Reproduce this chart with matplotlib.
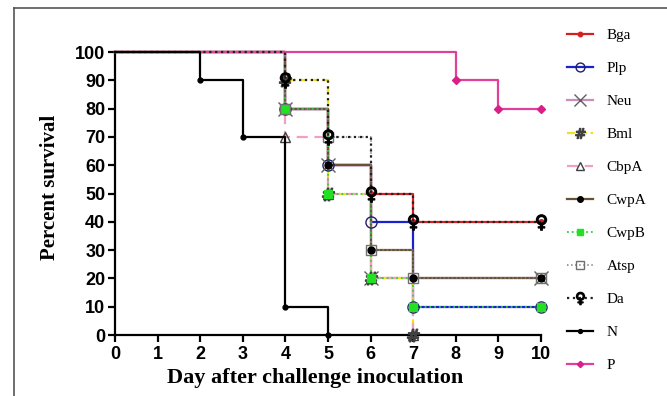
import matplotlib
matplotlib.use("Agg")
import matplotlib.pyplot as plt
from matplotlib.lines import Line2D

# survival curves: event days and percent surviving after each event
names = ["Bga", "Plp", "Neu", "Bml", "CbpA", "CwpA", "CwpB", "Atsp", "Da", "N", "P"]

bga_days = [0, 4, 5, 6, 7, 10]
bga_surv = [100, 80, 60, 50, 40, 40]
plp_days = [0, 4, 5, 6, 7, 10]
plp_surv = [100, 80, 60, 40, 10, 10]
neu_days = [0, 4, 5, 6, 10]
neu_surv = [100, 80, 60, 20, 20]
bml_days = [0, 4, 5, 6, 7]
bml_surv = [100, 90, 50, 20, 0]
cbpa_days = [0, 4, 5, 6, 7]
cbpa_surv = [100, 70, 50, 20, 0]
cwpa_days = [0, 4, 5, 6, 7, 10]
cwpa_surv = [100, 80, 60, 30, 20, 20]
cwpb_days = [0, 4, 5, 6, 7, 10]
cwpb_surv = [100, 80, 50, 20, 10, 10]
atsp_days = [0, 4, 5, 6, 7, 10]
atsp_surv = [100, 80, 70, 30, 20, 20]
da_days = [0, 4, 5, 6, 7, 10]
da_surv = [100, 90, 70, 50, 40, 40]
n_days = [0, 2, 3, 4, 5]
n_surv = [100, 90, 70, 10, 0]
p_days = [0, 8, 9, 10]
p_surv = [100, 90, 80, 80]

series = [
    (bga_days, bga_surv, dict(color="#d42020", ls="-", lw=1.6, marker="o", ms=4, mfc="#d42020", mec="#d42020")),
    (plp_days, plp_surv, dict(color="#1a22d0", ls="-", lw=1.6, marker="o", ms=8, mfc="none", mec="#20206a")),
    (neu_days, neu_surv, dict(color="#c890b8", ls="-", lw=1.6, marker="x", ms=10, mfc="none", mec="#606060")),
    (bml_days, bml_surv, dict(color="#f0e020", ls="--", lw=1.6, marker="$\\#$", ms=9, mfc="#404040", mec="#404040")),
    (cbpa_days, cbpa_surv, dict(color="#f0a0c4", ls=(0, (5, 3)), lw=1.6, marker="^", ms=7, mfc="none", mec="#404040")),
    (cwpa_days, cwpa_surv, dict(color="#6a5034", ls="-", lw=1.6, marker="o", ms=5, mfc="black", mec="black")),
    (cwpb_days, cwpb_surv, dict(color="#30d040", ls=":", lw=1.3, marker="s", ms=6, mfc="#22e022", mec="#22e022")),
    (atsp_days, atsp_surv, dict(color="#808080", ls=":", lw=1.1, marker="s", ms=7, mfc="none", mec="#707070")),
    (da_days, da_surv, dict(color="#202020", ls=":", lw=1.6, marker="$\u2640$", ms=11, mfc="black", mec="black")),
    (n_days, n_surv, dict(color="black", ls="-", lw=1.6, marker="o", ms=3.5, mfc="black", mec="black")),
    (p_days, p_surv, dict(color="#e0409a", ls="-", lw=1.6, marker="D", ms=4, mfc="#d82088", mec="#d82088")),
]

fig = plt.figure(figsize=(6.67, 3.96), dpi=100)
ax = fig.add_axes([0.1724, 0.154, 0.6387, 0.7146])

handles = []
for k, (d, s, st) in enumerate(series):
    z = 3 + k * 0.1
    if names[k] in ("N", "Da"):
        z = 5
    ax.step(d, s, where="post", color=st["color"], ls=st["ls"], lw=st["lw"],
            clip_on=False, zorder=z)
    ax.plot(d[1:], s[1:], ls="none", marker=st["marker"], ms=st["ms"],
            mfc=st["mfc"], mec=st["mec"], mew=1.0, clip_on=False, zorder=z + 1)
    handles.append(Line2D([0], [0], color=st["color"], ls=st["ls"], lw=st["lw"],
                          marker=st["marker"], ms=st["ms"] * 0.8,
                          mfc=st["mfc"], mec=st["mec"]))

ax.set_xlim(0, 10)
ax.set_ylim(0, 100)
ax.set_xticks(range(0, 11))
ax.set_yticks(range(0, 101, 10))
for sp in ("top", "right"):
    ax.spines[sp].set_visible(False)
for sp in ("left", "bottom"):
    ax.spines[sp].set_linewidth(1.6)
ax.tick_params(width=1.6, length=5, direction="out")
for t in ax.get_xticklabels() + ax.get_yticklabels():
    t.set_fontfamily("Liberation Sans")
    t.set_fontweight("bold")
    t.set_fontsize(13)
ax.tick_params(axis="x", pad=3)
ax.tick_params(axis="y", pad=2)

ax.set_xlabel("Day after challenge inoculation", family="Liberation Serif",
              fontweight="bold", fontsize=16)
ax.set_ylabel("Percent survival", family="Liberation Serif",
              fontweight="bold", fontsize=15)
ax.xaxis.set_label_coords(0.47, -0.115)
ax.yaxis.set_label_coords(-0.128, 0.52)

fig.legend(handles, names, loc="upper left", bbox_to_anchor=(0.829, 0.962),
           frameon=False, prop={"family": "Liberation Serif", "size": 11},
           handlelength=1.7, labelspacing=1.26, handletextpad=0.9)

# outer frame (left and top edges)
fig.add_artist(Line2D([0.021, 0.021], [0.0, 0.98], transform=fig.transFigure,
                      color="#555555", lw=1.2))
fig.add_artist(Line2D([0.021, 1.0], [0.98, 0.98], transform=fig.transFigure,
                      color="#555555", lw=1.2))

fig.savefig("out.png", dpi=100)
